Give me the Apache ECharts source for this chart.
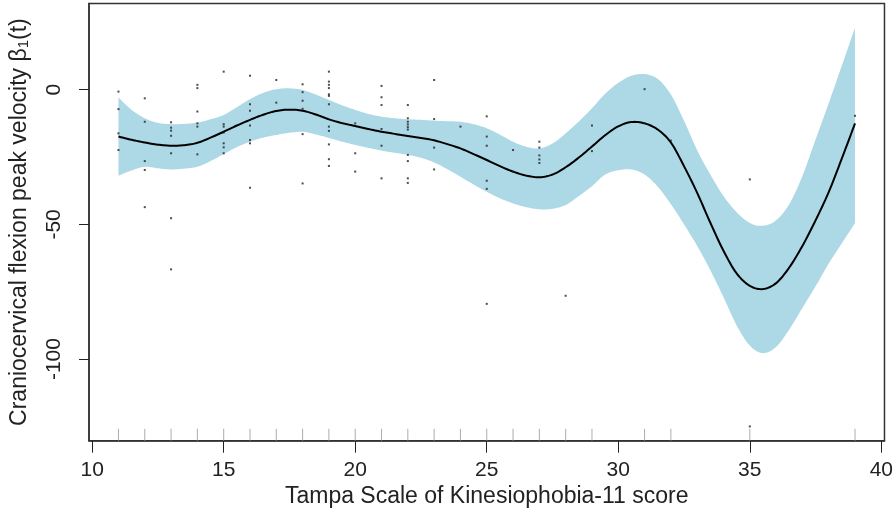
<!DOCTYPE html>
<html><head><meta charset="utf-8">
<script src="https://cdn.jsdelivr.net/npm/echarts@6/dist/echarts.min.js"></script>
<style>html,body{margin:0;padding:0;background:#fff}#c{width:896px;height:527px}</style>
</head><body><div id="c"></div>
<script>
// Axis ticks
const xTicks = [10, 15, 20, 25, 30, 35, 40];
const yTicks = [-100, -50, 0];

// Smooth fit and confidence band
const fitX = [11,11.5,12,12.5,13,13.5,14,14.5,15,15.5,16,16.5,17,17.5,18,18.5,19,19.5,20,20.5,21,21.5,22,22.5,23,23.5,24,24.5,25,25.5,26,26.5,27,27.5,28,28.5,29,29.5,30,30.5,31,31.5,32,32.5,33,33.5,34,34.5,35,35.5,36,36.5,37,37.5,38,38.5,39];
const fitY = [-17.4,-18.6,-19.6,-20.4,-20.8,-20.6,-19.7,-17.8,-15.6,-13.3,-11.2,-9.3,-7.9,-7.4,-7.8,-9.2,-11.0,-12.4,-13.5,-14.6,-15.6,-16.4,-17.2,-17.9,-18.8,-20.2,-21.8,-23.9,-26.1,-28.4,-30.4,-31.9,-32.5,-31.5,-28.8,-25.2,-21.1,-16.9,-13.6,-12.0,-12.5,-14.8,-19.6,-28.4,-38.3,-49.4,-59.8,-68.2,-72.8,-74.0,-71.8,-66.0,-58.0,-48.5,-38.0,-25.5,-12.5];
const upperY = [-2.9,-7.5,-10.6,-12.3,-12.8,-12.7,-12.2,-11.0,-9.4,-6.5,-3.5,-1.2,0.2,0.5,-0.1,-1.8,-3.8,-5.8,-7.5,-9.0,-10.0,-10.6,-11.0,-11.2,-11.5,-11.7,-11.9,-12.8,-14.3,-16.7,-19.3,-21.2,-21.8,-20.0,-16.2,-11.8,-6.9,-1.5,2.5,5.2,5.8,4.0,-1.8,-11.5,-22.5,-31.5,-39.5,-45.5,-49.5,-50.5,-48.5,-42.5,-32.0,-18.5,-5.0,9.0,23.0];
const lowerY = [-31.9,-30.0,-28.6,-29.2,-29.6,-29.3,-28.6,-26.5,-23.9,-21.3,-19.3,-17.8,-16.8,-16.0,-15.6,-16.6,-17.9,-19.3,-20.5,-21.6,-22.6,-23.4,-24.2,-25.3,-27.0,-29.5,-32.3,-35.2,-37.9,-40.3,-42.2,-43.6,-44.4,-44.2,-42.8,-39.5,-35.8,-31.5,-29.9,-29.6,-31.5,-36.0,-42.5,-50.0,-58.0,-67.0,-77.0,-87.5,-95.0,-97.8,-95.5,-89.0,-81.0,-73.0,-64.5,-57.0,-49.5];

// Observed points, grouped by score
const scoreX = [11,12,13,14,15,16,17,18,19,20,21,22,23,24,25,26,27,28,29,31,32,35,39];
const obsY = [
  [-0.7,-7.2,-16.2,-22.4],
  [-3.2,-11.9,-26.5,-29.8,-43.6],
  [-12.1,-14.1,-15.2,-17.1,-23.6,-47.7,-66.7],
  [1.8,0.6,-8.1,-12.5,-13.7,-24.0],
  [6.7,-12.8,-13.7,-15.9,-19.9,-21.4,-23.6],
  [5.2,-5.4,-7.8,-13.3,-18.7,-19.9,-36.4],
  [3.6,-4.8],
  [2.0,-0.9,-4.1,-7.1,-16.5,-34.8],
  [6.7,3.0,1.8,0.6,-1.7,-2.3,-5.4,-13.7,-15.3,-20.3,-25.8,-28.3],
  [-12.5,-23.6,-30.4],
  [1.4,-2.8,-5.7,-14.6,-20.8,-32.9],
  [-5.7,-10.6,-11.9,-12.9,-13.9,-14.8,-24.2,-26.5,-32.9,-34.6],
  [3.6,-10.9,-21.5,-29.6],
  [-13.7],
  [-9.9,-17.4,-20.8,-33.8,-36.8,-79.5],
  [-22.4,-30.4],
  [-19.3,-21.5,-24.4,-25.9,-27.2],
  [-76.5],
  [-13.3,-22.8],
  [0.2,-12.4],
  [-18.9],
  [-33.3,-125.0],
  [-9.7]
];

const X_MIN = 9.88, X_MAX = 40.12, Y_MIN = -130.3, Y_MAX = 32.0;
const FONT = 'Liberation Sans';

const points = [];
scoreX.forEach((x, i) => obsY[i].forEach(y => points.push([x, y])));
const rug = scoreX.map(x => [x, Y_MIN]);

// Rendering helper: Catmull-Rom smoothing of already-projected pixel points
function smoothPx(px, steps) {
  const out = [];
  const n = px.length;
  for (let i = 0; i < n - 1; i++) {
    const p0 = px[Math.max(0, i - 1)], p1 = px[i], p2 = px[i + 1], p3 = px[Math.min(n - 1, i + 2)];
    for (let s = 0; s < steps; s++) {
      const t = s / steps, t2 = t * t, t3 = t2 * t;
      const f = (a, b, c, d) => 0.5 * ((2 * b) + (-a + c) * t + (2 * a - 5 * b + 4 * c - d) * t2 + (-a + 3 * b - 3 * c + d) * t3);
      out.push([f(p0[0], p1[0], p2[0], p3[0]), f(p0[1], p1[1], p2[1], p3[1])]);
    }
  }
  out.push(px[n - 1]);
  return out;
}

const chart = echarts.init(document.getElementById('c'), null, {renderer: 'canvas'});
chart.setOption({
  animation: false,
  backgroundColor: '#fff',
  grid: {left: 87, right: 9, top: 3.5, bottom: 86.3, show: true, borderColor: '#333', borderWidth: 1.5, backgroundColor: 'transparent'},
  xAxis: {
    type: 'value', min: X_MIN, max: X_MAX,
    name: 'Tampa Scale of Kinesiophobia-11 score', nameLocation: 'middle', nameGap: 43,
    nameTextStyle: {fontFamily: FONT, fontSize: 23, color: '#222'},
    axisLine: {show: true, onZero: false, lineStyle: {color: '#333', width: 1.5}},
    axisTick: {show: true, length: 12, customValues: xTicks, lineStyle: {color: '#222', width: 1}},
    axisLabel: {customValues: xTicks, margin: 19, fontFamily: FONT, fontSize: 21, color: '#222'},
    splitLine: {show: false}
  },
  yAxis: {
    type: 'value', min: Y_MIN, max: Y_MAX,
    name: 'Craniocervical flexion peak velocity β{s|1}(t)', nameLocation: 'middle', nameGap: 58, nameRotate: 90,
    nameTextStyle: {fontFamily: FONT, fontSize: 23, color: '#222',
      rich: {s: {fontFamily: FONT, fontSize: 15, color: '#222', verticalAlign: 'bottom', padding: [8, 0, 0, 0]}}},
    axisLine: {show: true, onZero: false, lineStyle: {color: '#333', width: 1.5}},
    axisTick: {show: true, length: 10, customValues: yTicks, lineStyle: {color: '#222', width: 1}},
    axisLabel: {customValues: yTicks, rotate: 90, margin: 24, fontFamily: FONT, fontSize: 21, color: '#222'},
    splitLine: {show: false}
  },
  series: [
    {
      type: 'custom', name: 'band', silent: true, z: 1,
      data: [[fitX[0], upperY[0]]],
      renderItem: function (params, api) {
        const up = smoothPx(fitX.map((x, i) => api.coord([x, upperY[i]])), 8);
        const lo = smoothPx(fitX.map((x, i) => api.coord([x, lowerY[i]])), 8);
        return {type: 'polygon', shape: {points: up.concat(lo.reverse())}, style: {fill: '#ADD8E6', stroke: null}};
      }
    },
    {
      type: 'custom', name: 'fit', silent: true, z: 3,
      data: [[fitX[0], fitY[0]]],
      renderItem: function (params, api) {
        const pts = smoothPx(fitX.map((x, i) => api.coord([x, fitY[i]])), 8);
        return {type: 'polyline', shape: {points: pts}, style: {stroke: '#000', lineWidth: 2, fill: null}};
      }
    },
    {
      type: 'scatter', name: 'obs', symbol: 'rect', symbolSize: 2,
      itemStyle: {color: '#222'}, data: points, z: 4
    },
    {
      type: 'scatter', name: 'rug', symbol: 'rect', symbolSize: [1, 12], symbolOffset: [0, -6],
      itemStyle: {color: '#999'}, data: rug, z: 2, clip: false
    }
  ]
});
</script>
</body></html>
